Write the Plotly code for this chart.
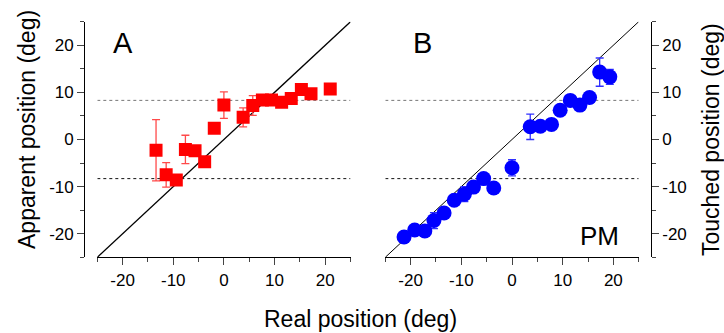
import plotly.graph_objects as go

# ---- data ----
real_a = [-13.4, -11.4, -9.4, -7.6, -5.7, -3.8, -1.9, 0.0, 3.8, 5.7, 7.6, 9.4, 11.4, 13.3, 15.3, 17.2, 21.0]
appar_a = [-2.3, -7.5, -8.6, -2.1, -2.4, -4.7, 2.4, 7.3, 4.7, 7.2, 8.4, 8.4, 7.9, 8.7, 10.6, 9.7, 10.7]
err_a = [6.5, 2.6, 0.8, 3.0, 0.8, 0.8, 0.8, 2.8, 2.0, 2.1, 0.8, 0.5, 0.5, 0.5, 0.5, 0.5, 0.5]

real_b = [-21.3, -19.2, -17.2, -15.4, -13.4, -11.4, -9.4, -7.6, -5.6, -3.6, 0.0, 3.6, 5.6, 7.8, 9.5, 11.5, 13.4, 15.3, 17.3, 19.3]
touch_b = [-20.7, -19.2, -19.4, -17.2, -15.6, -12.9, -11.6, -10.1, -8.3, -10.3, -6.0, 2.7, 2.8, 3.2, 6.2, 8.3, 7.3, 8.9, 14.3, 13.3]
err_b = [0.8, 0.8, 0.8, 1.7, 0.8, 0.8, 1.6, 0.8, 0.8, 0.8, 1.7, 2.7, 0.8, 0.8, 0.8, 0.8, 0.8, 1.1, 3.0, 1.6]

unity = [-25, 25]
limit_hi = 8.3
limit_lo = -8.3

tick_vals = [-20, -10, 0, 10, 20]
tick_text = ["-20", "-10", "0", "10", "20"]

FONT = "Liberation Sans, Arial, sans-serif"

fig = go.Figure()

for xa, ya in (("x", "y"), ("x2", "y2")):
    fig.add_trace(go.Scatter(x=unity, y=unity, mode="lines", xaxis=xa, yaxis=ya,
                             line=dict(color="black", width=1.3 if xa == "x" else 1.0),
                             showlegend=False, hoverinfo="skip"))
    fig.add_trace(go.Scatter(x=unity, y=[limit_hi, limit_hi], mode="lines", xaxis=xa, yaxis=ya,
                             line=dict(color="#777777", width=1, dash="dot"),
                             showlegend=False, hoverinfo="skip"))
    fig.add_trace(go.Scatter(x=unity, y=[limit_lo, limit_lo], mode="lines", xaxis=xa, yaxis=ya,
                             line=dict(color="#111111", width=1, dash="dot"),
                             showlegend=False, hoverinfo="skip"))

fig.add_trace(go.Scatter(x=real_a, y=appar_a, mode="markers", xaxis="x", yaxis="y",
                         marker=dict(symbol="square", size=13, color="#ff0000"),
                         error_y=dict(type="data", array=err_a, color="#ff4a4a", thickness=1.3, width=4),
                         showlegend=False))
fig.add_trace(go.Scatter(x=real_b, y=touch_b, mode="markers", xaxis="x2", yaxis="y2",
                         marker=dict(symbol="circle", size=15, color="#0000ff"),
                         error_y=dict(type="data", array=err_b, color="#3030ff", thickness=1.3, width=4),
                         showlegend=False))

W, H = 724, 333
ytop, ybot = 21.7, 257.3
ydom = [1 - ybot / H, 1 - ytop / H]

common_x = dict(range=[-25, 25], tickvals=tick_vals, ticktext=tick_text, ticks="outside", ticklen=7, tickwidth=1.2,
                showline=True, linecolor="black", linewidth=1.3, showgrid=False, zeroline=False,
                tickfont=dict(family=FONT, size=17, color="black"),
                minor=dict(dtick=5, tick0=-25, ticks="outside", ticklen=4, tickwidth=1.2, showgrid=False))
common_y = dict(range=[-25, 25], tickvals=tick_vals, ticktext=tick_text, ticks="outside", ticklen=7, tickwidth=1.2,
                showline=True, linecolor="black", linewidth=1.3, showgrid=False, zeroline=False,
                tickfont=dict(family=FONT, size=17, color="black"), domain=ydom, anchor="free",
                minor=dict(dtick=5, tick0=-25, ticks="outside", ticklen=4, tickwidth=1.2, showgrid=False))

fig.update_layout(
    width=W, height=H, margin=dict(l=0, r=0, t=0, b=0),
    paper_bgcolor="white", plot_bgcolor="white",
    xaxis=dict(domain=[97.3 / W, 350.5 / W], anchor="y", **common_x),
    xaxis2=dict(domain=[385.3 / W, 638.7 / W], anchor="y2", **common_x),
    yaxis=dict(position=84.3 / W, side="left", **common_y),
    yaxis2=dict(position=650.7 / W, side="right", **common_y),
)

def px_ann(text, x, y, size, angle=0):
    fig.add_annotation(text=text, x=x / W, y=1 - y / H, xref="paper", yref="paper",
                       showarrow=False, textangle=angle, xanchor="center", yanchor="middle",
                       font=dict(family=FONT, size=size, color="black"))

px_ann("Apparent position (deg)", 27, 130, 23, -90)
px_ann("Touched position (deg)", 711, 140, 23, -90)
px_ann("Real position (deg)", 360, 319, 23)
px_ann("A", 123, 43, 29)
px_ann("B", 422, 43, 29)
px_ann("PM", 599, 236, 26)

fig.write_html("out.html")
